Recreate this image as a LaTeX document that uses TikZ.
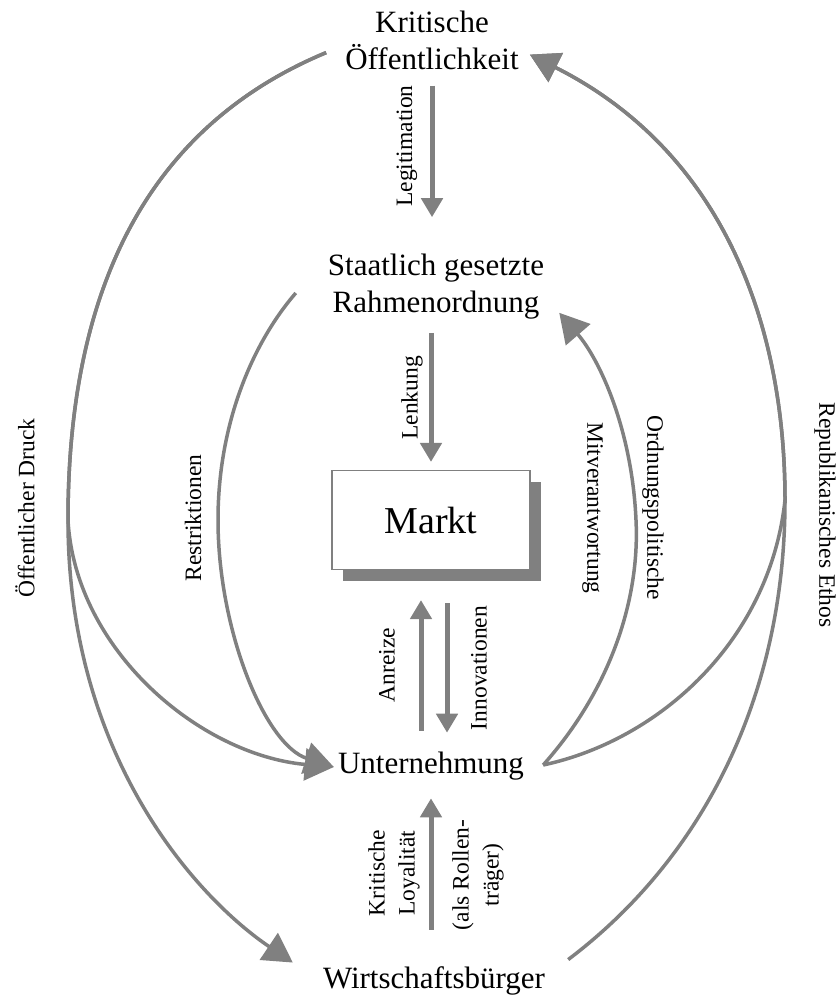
\documentclass[tikz,border=0pt]{standalone}
\usepackage{fontspec}
\setmainfont{Liberation Serif}
\usetikzlibrary{arrows.meta,shadows}
\definecolor{arrowgray}{RGB}{128,128,128}
\tikzset{
  term/.style={inner sep=0pt, align=center, font=\fontsize{31}{37}\selectfont},
  lbl/.style={inner sep=0pt, align=center, font=\fontsize{23.5}{30}\selectfont},
  marktbox/.style={draw=arrowgray, line width=1.2pt, fill=white, inner sep=0pt,
    minimum width=198pt, minimum height=99pt, font=\fontsize{38}{44}\selectfont,
    drop shadow={shadow xshift=11pt, shadow yshift=-11pt, fill=arrowgray, opacity=1}},
  flow/.style={arrowgray, line width=5pt, -{Triangle[length=19pt,width=21pt]}},
  swing/.style={arrowgray, line width=3.5pt, -{Triangle[length=29pt,width=32pt]}}
}

\begin{document}
\begin{tikzpicture}[x=1pt,y=-1pt]
  \useasboundingbox (0,0) rectangle (839,1001);

  \node[term] (krit) at (432,40) {Kritische\\Öffentlichkeit};
  \node[term] (staat) at (436,287) {Staatlich gesetzte\\Rahmenordnung};
  \node[marktbox] (markt) at (431,520) {Markt};
  \node[term] (untern) at (431,766) {Unternehmung};
  \node[term] (wirt) at (434,981) {Wirtschaftsbürger};

  \draw[flow, shorten <=16pt, shorten >=37pt] (krit.south) -- (krit.south |- staat.north);
  \draw[flow, shorten <=13pt, shorten >=8pt] (markt.north |- staat.south) -- (markt.north);
  \draw[flow, shorten <=21pt, shorten >=30pt] ([xshift=-10pt]untern.north) -- ([xshift=-10pt]untern.north |- markt.south);
  \draw[flow, shorten <=33pt, shorten >=19pt] ([xshift=16pt]untern.north |- markt.south) -- ([xshift=16pt]untern.north);
  \draw[flow, shorten <=37pt, shorten >=18pt] (untern.south |- wirt.north) -- (untern.south);

  \draw[swing] ([shift={(-19,-17)}]krit.south west) .. controls (140,130) and (68,300) .. (68,520)
    .. controls (68,760) and (200,900) .. ([shift={(-30,-4)}]wirt.north west);
  \draw[swing] ([shift={(-19,-17)}]krit.south west) .. controls (140,130) and (68,300) .. (68,520)
    .. controls (75,650) and (200,755) .. ([shift={(-4,1)}]untern.west);
  \draw[swing] ([shift={(-32,6)}]staat.west) .. controls (255,340) and (218,420) .. (218,520)
    .. controls (218,630) and (265,745) .. ([shift={(-4,1)}]untern.west);
  \draw[swing] ([shift={(19,-1)}]untern.east) .. controls (610,690) and (640,600) .. (636,520)
    .. controls (632,430) and (600,360) .. ([shift={(15,-7)}]staat.south east);
  \draw[swing] ([shift={(23,-7)}]wirt.north east) .. controls (700,860) and (785,700) .. (785,500)
    .. controls (785,320) and (720,150) .. ([shift={(11,-15)}]krit.south east);
  \draw[swing] ([shift={(19,-1)}]untern.east) .. controls (660,740) and (770,640) .. (785,500)
    .. controls (785,320) and (720,150) .. ([shift={(11,-15)}]krit.south east);

  \node[lbl, rotate=90] (legit) at (407,146) {Legitimation};
  \node[lbl, rotate=90] (lenk) at (412,398) {Lenkung};
  \node[lbl, rotate=90] (anreiz) at (387,665) {Anreize};
  \node[lbl, rotate=90] (innov) at (479,668) {Innovationen};
  \node[lbl, rotate=90] (loyal) at (394,873) {Kritische\\Loyalität};
  \node[lbl, rotate=90] (rolle) at (478,875) {(als Rollen-\\träger)};
  \node[lbl, rotate=90] (druck) at (25,508) {Öffentlicher Druck};
  \node[lbl, rotate=90] (restr) at (193,518) {Restriktionen};
  \node[lbl, rotate=-90] (ordn) at (623,508) {Ordnungspolitische\\[30pt]Mitverantwortung};
  \node[lbl, rotate=-90] (ethos) at (825,515) {Republikanisches Ethos};
\end{tikzpicture}
\end{document}
